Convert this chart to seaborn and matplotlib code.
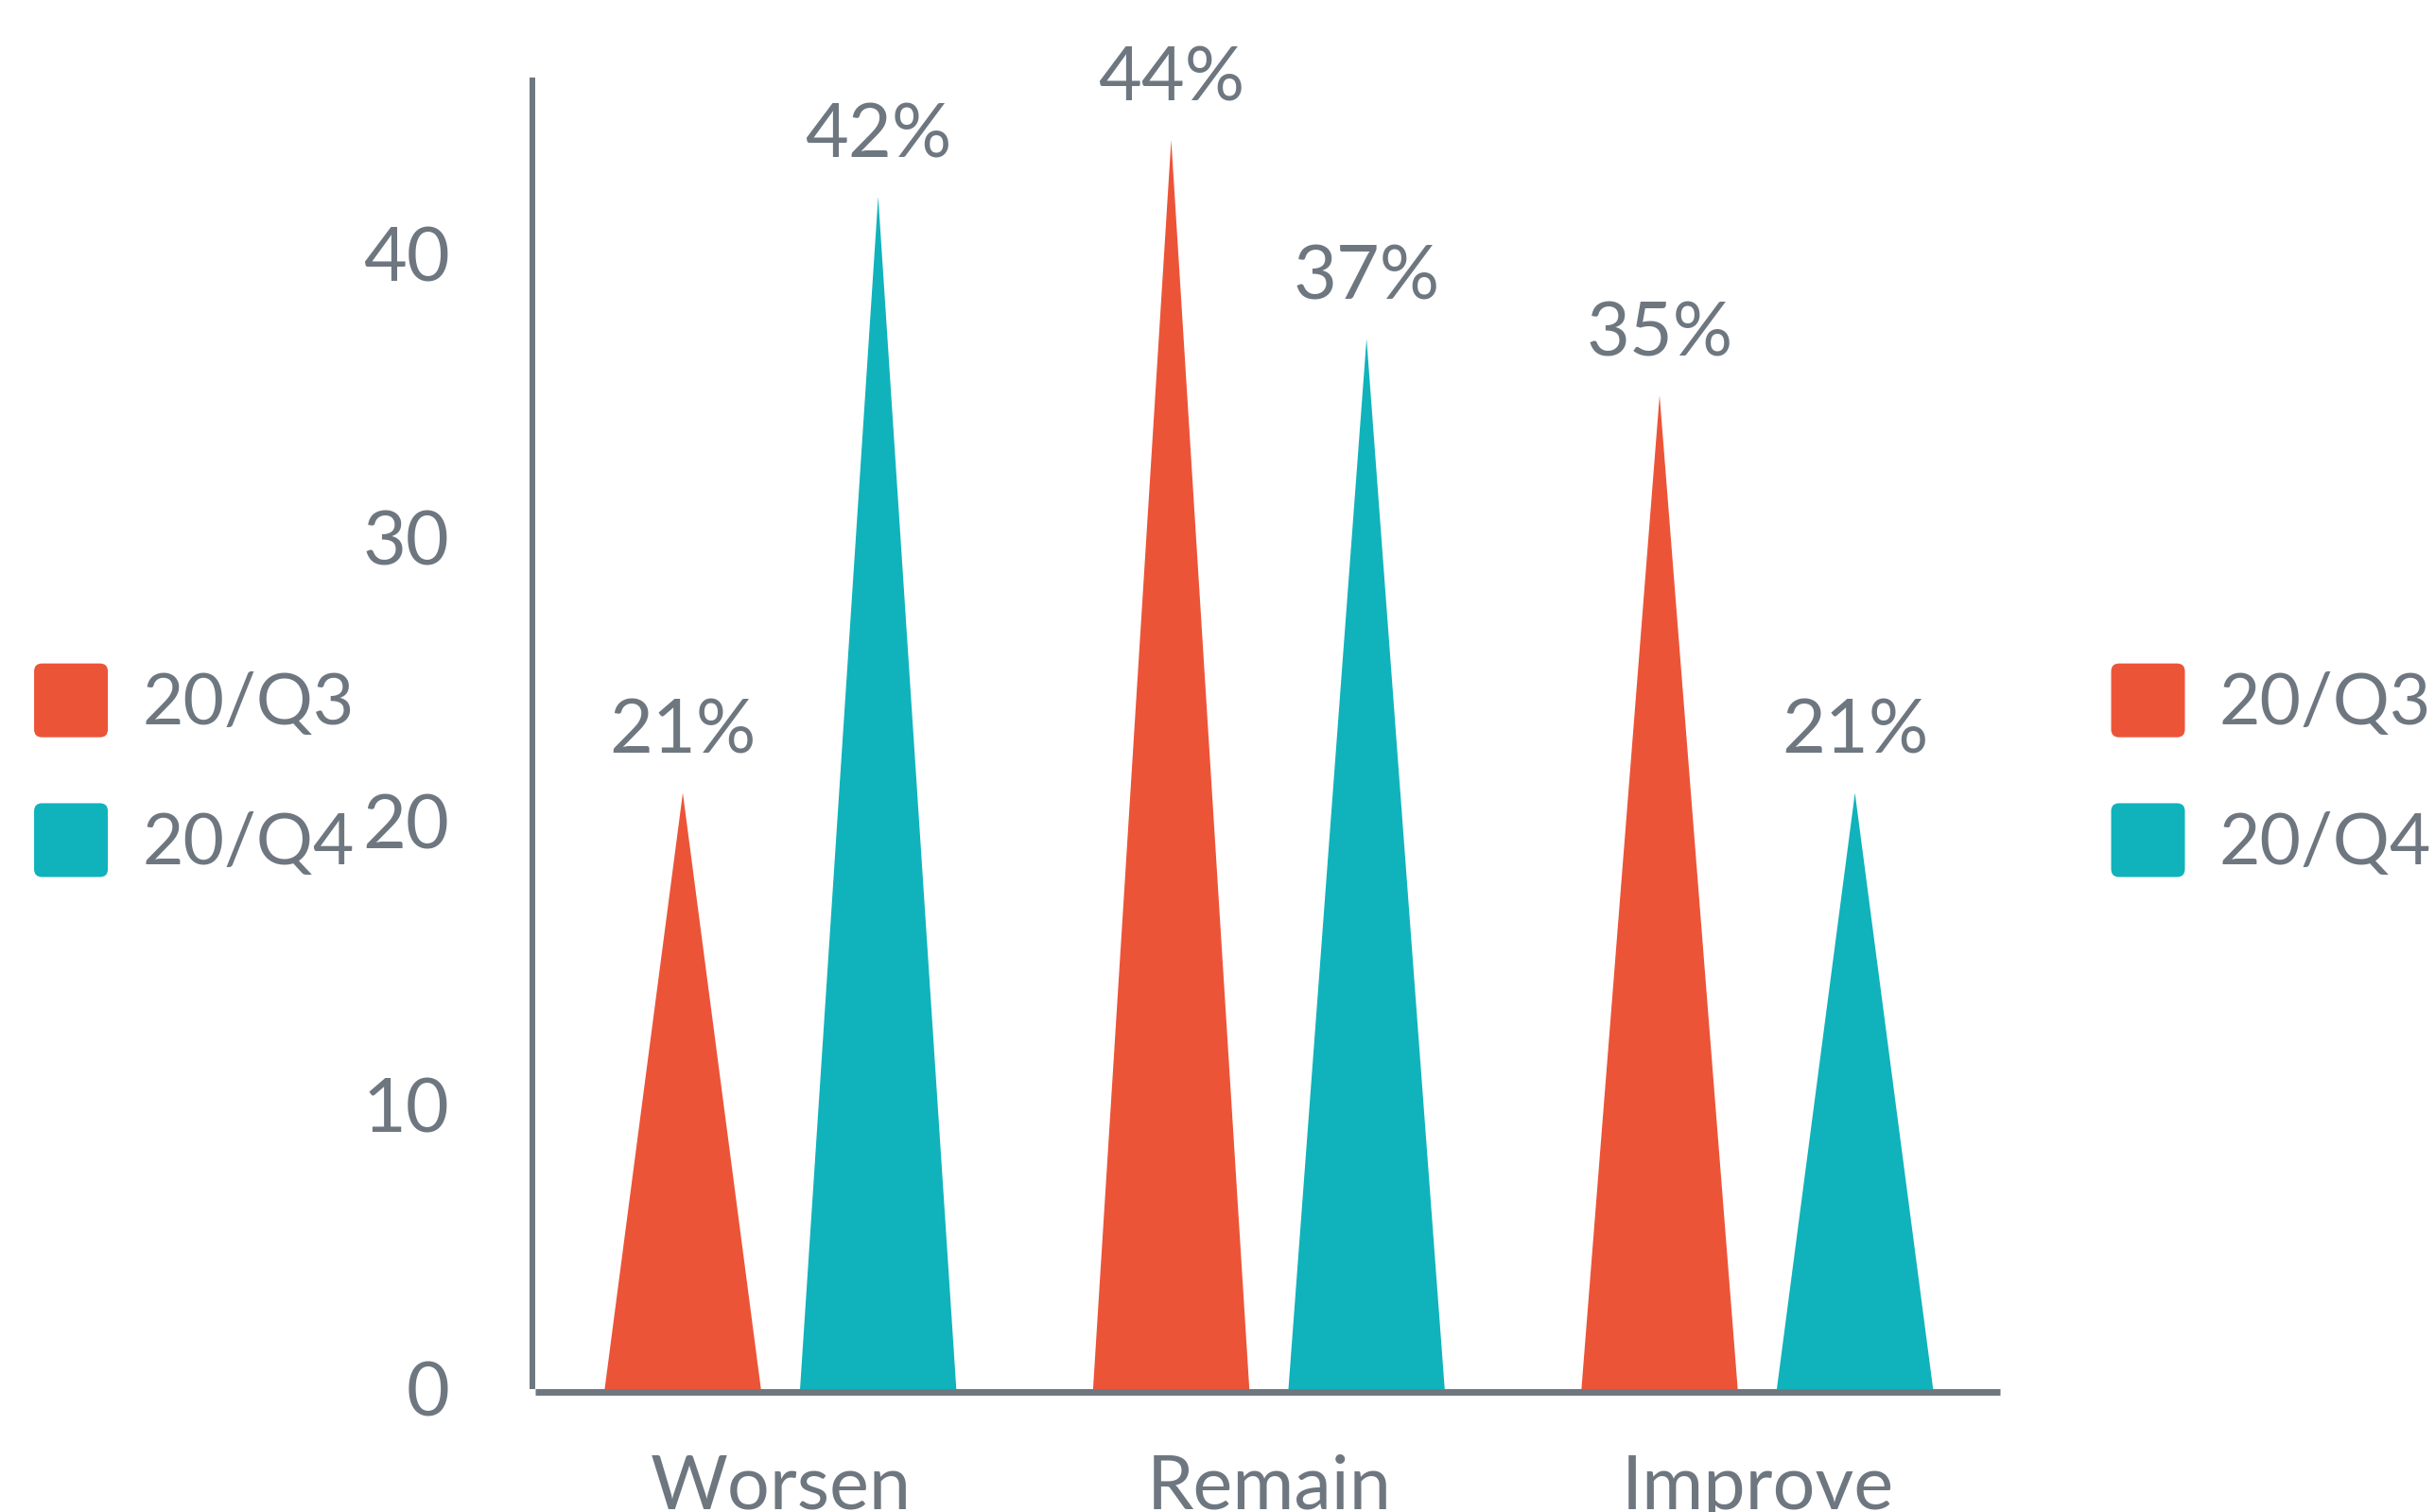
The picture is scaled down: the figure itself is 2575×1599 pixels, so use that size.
import matplotlib
matplotlib.use("Agg")
import matplotlib.pyplot as plt
from matplotlib.patches import Polygon, FancyBboxPatch
from matplotlib.legend_handler import HandlerPatch
import pandas as pd
import seaborn as sns

# Survey outlook shares (%) per quarter
outlooks = ["Worsen", "Remain", "Improve"]
quarters = ["20/Q3", "20/Q4"]
q3_share = [21, 44, 35]
q4_share = [42, 37, 21]
y_ticks = [0, 10, 20, 30, 40]

colors = {"20/Q3": "#EC5438", "20/Q4": "#10B3BB"}
grey = "#6E7780"

sns.set_theme(style="white")
plt.rcParams["font.family"] = ["Lato", "DejaVu Sans"]

df = pd.DataFrame({
    "outlook": outlooks * 2,
    "quarter": [quarters[0]] * 3 + [quarters[1]] * 3,
    "share": q3_share + q4_share,
})

W, H = 2575, 1599
fig = plt.figure(figsize=(W / 100, H / 100), dpi=100)
left, right, bottom, top = 563 / W, 2115 / W, 1 - 1469 / H, 1 - 82 / H
ax = fig.add_axes([left, bottom, right - left, top - bottom])

sns.barplot(data=df, x="outlook", y="share", hue="quarter", order=outlooks,
            hue_order=quarters, palette=colors, width=0.8, ax=ax,
            legend=False, errorbar=None, saturation=1)

# Turn each bar into a spike: triangle on the bar's base, apex at its value
for container, q in zip(ax.containers, quarters):
    for bar in container:
        x0 = bar.get_x()
        w = bar.get_width()
        h = bar.get_height()
        xc = x0 + w / 2
        half = w * 0.8 / 2
        tri = Polygon([(xc - half, 0), (xc, h), (xc + half, 0)], closed=True,
                      facecolor=colors[q], edgecolor="none", zorder=2)
        ax.add_patch(tri)
        bar.set_visible(False)
        ax.annotate(f"{h:.0f}%", (xc, h), xytext=(0, 20),
                    textcoords="offset points", ha="center", va="bottom",
                    fontsize=57, color=grey)

ax.set_xlim(-0.508, 2.497)
ax.set_ylim(0, 46.2)
ax.set_yticks(y_ticks)
ax.set_xlabel("")
ax.set_ylabel("")
sns.despine(ax=ax)
for side in ("left", "bottom"):
    ax.spines[side].set_color(grey)
    ax.spines[side].set_capstyle("butt")
ax.spines["left"].set_linewidth(4.3)
ax.spines["bottom"].set_linewidth(5)
ax.spines["bottom"].set_position(("outward", 2.5))
ax.spines["bottom"].set_bounds(-0.503, 2.497)
ax.tick_params(axis="both", length=0, labelsize=57, labelcolor=grey)
ax.tick_params(axis="y", pad=63)
ax.tick_params(axis="x", pad=47)
ax.grid(False)


class RoundSquare(HandlerPatch):
    def create_artists(self, legend, orig_handle, xdescent, ydescent,
                       width, height, fontsize, trans):
        p = FancyBboxPatch((-xdescent, -ydescent), width, height,
                           boxstyle="round,pad=0,rounding_size=6",
                           facecolor=orig_handle.get_facecolor(),
                           edgecolor="none", transform=trans)
        return [p]


handles = [FancyBboxPatch((0, 0), 1, 1, facecolor=colors[q]) for q in quarters]
leg_kw = dict(frameon=False, fontsize=54, labelcolor=grey, handlelength=1.04,
              handleheight=1.224, handletextpad=0.48, labelspacing=0.93,
              borderpad=0, borderaxespad=0, loc="upper left",
              handler_map={FancyBboxPatch: RoundSquare()})

fig.legend(handles, quarters, bbox_to_anchor=(0.014, 0.5612),
           bbox_transform=fig.transFigure, **leg_kw)
fig.legend(handles, quarters, bbox_to_anchor=(0.867, 0.5612),
           bbox_transform=fig.transFigure, **leg_kw)

fig.savefig("out.png", dpi=100)
